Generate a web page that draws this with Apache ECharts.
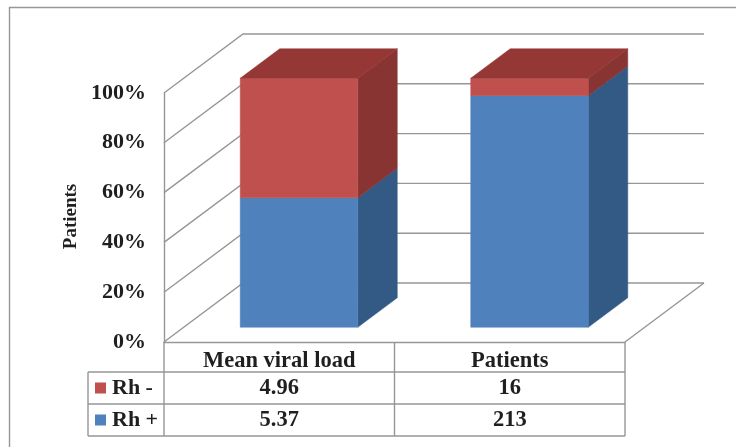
<!DOCTYPE html>
<html>
<head>
<meta charset="utf-8">
<style>html,body{margin:0;padding:0;background:#fff}#chart{width:736px;height:447px}</style>
<script src="https://cdn.jsdelivr.net/npm/echarts@6/dist/echarts.min.js"></script>
</head>
<body>
<div id="chart"></div>
<script>
// Rh factor groups compared by mean viral load and patient count
const categories = ['Mean viral load', 'Patients'];
const rhNegative = [4.96, 16];
const rhPositive = [5.37, 213];
const percentTicks = [0, 20, 40, 60, 80, 100];

// Oblique projection of the chart box
const DEPTH_X = 79, DEPTH_Y = 59;
const BAR_NEAR = 0.25, BAR_FAR = 0.75, BAR_SHARE = 0.51;
const TABLE_ROWS = [30, 62, 94];
const SERIF = '"Liberation Serif", "Times New Roman", serif';
const LINE = '#969696';
const INK = '#1f1f1f';

const share = (a, b) => a / (a + b) * 100;
const posShare = rhPositive.map((v, i) => share(v, rhNegative[i]));

function shift(p, d) { return [p[0] + DEPTH_X * d, p[1] - DEPTH_Y * d]; }

function poly(points, fill) {
  return { type: 'polygon', shape: { points }, style: { fill, stroke: fill, lineWidth: 0.5 } };
}

// One stacked block: front face, side face and, for the upper block, the top face
function renderBlock(front, side, top) {
  return function (params, api) {
    const cat = api.value(0), lo = api.value(1), hi = api.value(2);
    const half = api.size([1, 0])[0] * BAR_SHARE / 2;
    const cb = api.coord([cat, lo]), ct = api.coord([cat, hi]);
    const at = (x, y, d) => shift([x, y], d);
    const l = cb[0] - half, r = cb[0] + half;
    const children = [
      poly([at(r, cb[1], BAR_NEAR), at(r, cb[1], BAR_FAR), at(r, ct[1], BAR_FAR), at(r, ct[1], BAR_NEAR)], side),
      poly([at(l, cb[1], BAR_NEAR), at(r, cb[1], BAR_NEAR), at(r, ct[1], BAR_NEAR), at(l, ct[1], BAR_NEAR)], front)
    ];
    if (top) {
      children.push(poly([at(l, ct[1], BAR_NEAR), at(r, ct[1], BAR_NEAR), at(r, ct[1], BAR_FAR), at(l, ct[1], BAR_FAR)], top));
    }
    return { type: 'group', children };
  };
}

// Side wall and back wall rulings at each percentage tick
function renderWalls(params, api) {
  const box = params.coordSys;
  const y = api.coord([0, api.value(0)])[1];
  const a = [box.x, y], b = shift(a, 1), c = [box.x + box.width + DEPTH_X, y - DEPTH_Y];
  const style = { stroke: LINE, lineWidth: 1.4, fill: 'none' };
  const children = [{ type: 'polyline', shape: { points: [a, b, c] }, style }];
  if (api.value(0) === 0) {
    children.push({ type: 'line', shape: { x1: box.x + box.width, y1: y, x2: c[0], y2: c[1] }, style });
  }
  return { type: 'group', children };
}

// Value table under the plot
const tableRows = [rhNegative, rhPositive];
const tableCells = [];
tableRows.forEach((row, r) => row.forEach((v, c) => tableCells.push([c, r, String(v)])));

function renderCell(params, api) {
  const box = params.coordSys;
  const x = api.coord([api.value(0), 0])[0];
  const bottom = box.y + box.height;
  const r = api.value(1);
  const y = bottom + (TABLE_ROWS[r] + TABLE_ROWS[r + 1]) / 2;
  return {
    type: 'text',
    style: {
      x, y, text: tableCells[params.dataIndex][2], fill: INK,
      font: 'bold 22.5px ' + SERIF, textAlign: 'center', textVerticalAlign: 'middle'
    }
  };
}

function renderTableLines(params) {
  const box = params.coordSys;
  const bottom = box.y + box.height;
  const right = box.x + box.width;
  const legendX = box.x - 76;
  const style = { stroke: LINE, lineWidth: 1.4 };
  const children = [];
  TABLE_ROWS.forEach(o => children.push({ type: 'line', shape: { x1: legendX, y1: bottom + o, x2: right, y2: bottom + o }, style }));
  const last = bottom + TABLE_ROWS[TABLE_ROWS.length - 1];
  [box.x, box.x + box.width / 2, right].forEach(x => children.push({ type: 'line', shape: { x1: x, y1: bottom, x2: x, y2: last }, style }));
  children.push({ type: 'line', shape: { x1: legendX, y1: bottom + TABLE_ROWS[0], x2: legendX, y2: last }, style });
  return { type: 'group', children };
}

const chart = echarts.init(document.getElementById('chart'), null, { renderer: 'canvas' });
chart.setOption({
  animation: false,
  backgroundColor: '#ffffff',
  graphic: [{
    type: 'rect', silent: true, z: -10,
    shape: { x: 9.5, y: 7.5, width: 740, height: 450 },
    style: { fill: '#ffffff', stroke: LINE, lineWidth: 1.4 }
  }],
  grid: { left: 164, right: 111, top: 93, bottom: 105 },
  xAxis: {
    type: 'category', data: categories,
    axisTick: { show: false },
    axisLine: { lineStyle: { color: LINE, width: 1.4 } },
    axisLabel: { color: INK, fontFamily: SERIF, fontWeight: 'bold', fontSize: 22.5, margin: 7, padding: [1, 0, 0, 0] }
  },
  yAxis: {
    type: 'value', min: 0, max: 100, interval: 20,
    name: 'Patients', nameLocation: 'middle', nameGap: 82, nameRotate: 90,
    nameTextStyle: { color: INK, fontFamily: SERIF, fontWeight: 'bold', fontSize: 19, padding: [0, 0, 0, 2] },
    axisLine: { show: true, lineStyle: { color: LINE, width: 1.4 } },
    axisTick: { show: false },
    splitLine: { show: false },
    axisLabel: { formatter: '{value}%', color: INK, fontFamily: SERIF, fontWeight: 'bold', fontSize: 22, margin: 18, padding: [3, 0, 0, 0] }
  },
  legend: {
    data: ['Rh -', 'Rh +'], orient: 'vertical', left: 95, top: 377,
    icon: 'rect', itemWidth: 11, itemHeight: 11, itemGap: 10,
    selectedMode: false, padding: 0,
    textStyle: { color: INK, fontFamily: SERIF, fontWeight: 'bold', fontSize: 22, padding: [0, 0, 0, 1] }
  },
  series: [
    { type: 'custom', silent: true, z: 1, renderItem: renderWalls, data: percentTicks.map(t => [t]), encode: { y: 0 } },
    {
      type: 'custom', name: 'Rh +', z: 2, silent: true, itemStyle: { color: '#4F81BD' },
      renderItem: renderBlock('#4F81BD', '#335A85', null),
      data: categories.map((_, i) => [i, 0, posShare[i]]), encode: { x: 0, y: [1, 2] }
    },
    {
      type: 'custom', name: 'Rh -', z: 3, silent: true, itemStyle: { color: '#C0504D' },
      renderItem: renderBlock('#C0504D', '#873432', '#953735'),
      data: categories.map((_, i) => [i, posShare[i], 100]), encode: { x: 0, y: [1, 2] }
    },
    { type: 'custom', silent: true, z: 4, renderItem: renderTableLines, data: [[0]], encode: { x: 0 } },
    { type: 'custom', silent: true, z: 5, renderItem: renderCell, data: tableCells.map(c => [c[0], c[1]]), encode: { x: 0 } }
  ]
});
</script>
</body>
</html>
